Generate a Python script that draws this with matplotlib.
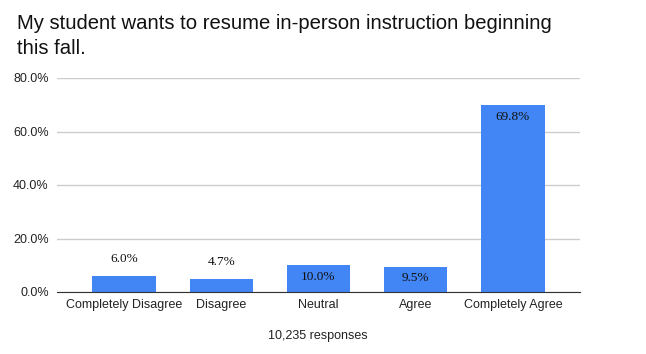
import matplotlib.pyplot as plt

categories = ['Completely Disagree', 'Disagree', 'Neutral', 'Agree', 'Completely Agree']
values = [6.0, 4.7, 10.0, 9.5, 69.8]
labels_inside = [False, False, True, True, True]
yticks = [0, 20, 40, 60, 80]

plt.rcParams['font.family'] = ['Liberation Sans', 'DejaVu Sans']

fig = plt.figure(figsize=(6.46, 3.54), dpi=100)
ax = fig.add_axes([57/646, 1-292/354, 523/646, 214/354])

x = range(len(categories))
ax.bar(x, values, width=0.65, color='#4285f4', zorder=3)

for i, v in enumerate(values):
    if labels_inside[i]:
        ax.annotate(f'{v:.1f}%', (i, v), xytext=(0, -4), textcoords='offset points',
                    ha='center', va='top', fontsize=9.5, family='Liberation Serif', color='#111111')
    else:
        ax.annotate(f'{v:.1f}%', (i, v), xytext=(0, 8), textcoords='offset points',
                    ha='center', va='bottom', fontsize=9.5, family='Liberation Serif', color='#111111')

ax.set_xlim(-0.69, 4.69)
ax.set_ylim(0, 80)
ax.set_yticks(yticks)
ax.set_yticklabels([f'{t:.1f}%' for t in yticks])
ax.set_xticks(list(x))
ax.set_xticklabels(categories)
ax.tick_params(axis='both', length=0, labelsize=9, colors='#222222')
ax.tick_params(axis='x', pad=5)
ax.tick_params(axis='y', pad=6)
ax.yaxis.grid(True, color='#cccccc', linewidth=1, zorder=0)
for s in ['top', 'right', 'left']:
    ax.spines[s].set_visible(False)
ax.spines['bottom'].set_color('#333333')
ax.spines['bottom'].set_zorder(4)

fig.text(17/646, 1-14/354, 'My student wants to resume in-person instruction beginning\nthis fall.',
         ha='left', va='top', fontsize=14.6, color='#111111', linespacing=1.42)
fig.text(318/646, 1-336/354, '10,235 responses', ha='center', va='center', fontsize=9, color='#222222')

fig.savefig('out.png', dpi=100)
